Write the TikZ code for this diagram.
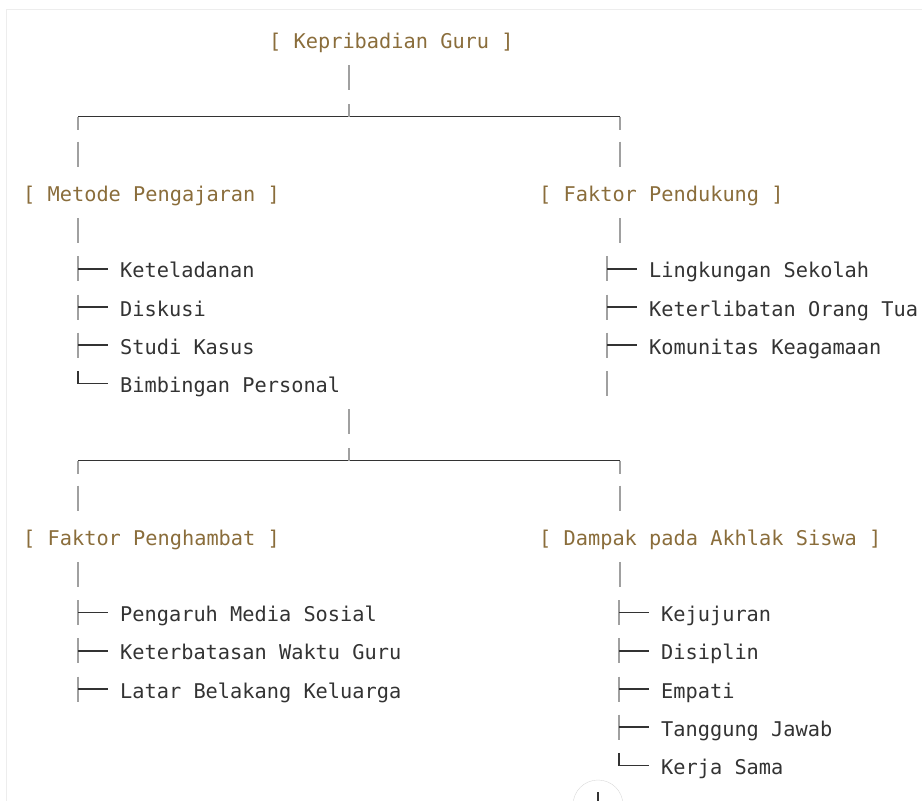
\documentclass[tikz,border=0pt]{standalone}
\usepackage{fontspec}
\newfontfamily\kodefont{DejaVu Sans Mono}
\usetikzlibrary{calc}
\definecolor{coklat}{HTML}{8A6D3B}
\definecolor{tinta}{HTML}{333333}
\definecolor{abu}{HTML}{A0A0A0}
\tikzset{judul/.style={anchor=base west, inner sep=0pt, text=coklat, font=\kodefont\fontsize{20.3}{24}\selectfont}}
\tikzset{isi/.style={judul, text=tinta}}
\tikzset{tegak/.style={line width=1.5pt, abu}}
\tikzset{datar/.style={line width=1.5pt, tinta}}

\begin{document}
\begin{tikzpicture}[x=1pt, y=-1pt]
  \useasboundingbox (0,0) rectangle (922,801);
  \draw[black!7] (6,801) -- (6,9) -- (922,9);

  % judul
  \node[judul] (guru) at (269,48.6) {[ Kepribadian Guru ]};
  \node[judul] (metode) at (23,201.4) {[ Metode Pengajaran ]};
  \node[judul] (dukung) at (539,201.4) {[ Faktor Pendukung ]};
  \node[judul] (hambat) at (23,545.2) {[ Faktor Penghambat ]};
  \node[judul] (dampak) at (539,545.2) {[ Dampak pada Akhlak Siswa ]};

  % isi
  \foreach \t [count=\n] in {Keteladanan, Diskusi, Studi Kasus, Bimbingan Personal}
    \node[isi] (m\n) at (120,{239.6+38.2*\n}) {\t};
  \foreach \t [count=\n] in {Lingkungan Sekolah, Keterlibatan Orang Tua, Komunitas Keagamaan}
    \node[isi] (p\n) at (649,{239.6+38.2*\n}) {\t};
  \foreach \t [count=\n] in {Pengaruh Media Sosial, Keterbatasan Waktu Guru, Latar Belakang Keluarga}
    \node[isi] (h\n) at (120,{583.4+38.2*\n}) {\t};
  \foreach \t [count=\n] in {Kejujuran, Disiplin, Empati, Tanggung Jawab, Kerja Sama}
    \node[isi] (d\n) at (661,{583.4+38.2*\n}) {\t};

  % cabang
  \foreach \c in {m1,m2,m3,p1,p2,p3,h1,h2,h3,d1,d2,d3,d4} {
    \draw[tegak] ($(\c.base west)+(-42,-21.5)$) -- ++(0,25);
    \draw[datar] ($(\c.base west)+(-42,-9)$) -- ++(30,0);
  }
  \foreach \c in {m4,d5}
    \draw[datar] ($(\c.base west)+(-42,-21.5)$) |- ++(30,12.5);

  % batang di bawah judul
  \draw[tegak] ($(guru.base west)+(80,16.7)$) -- ++(0,25);
  \foreach \j/\dx in {metode/55, dukung/81, hambat/55, dampak/81}
    \draw[tegak] ($(\j.base west)+(\dx,16.7)$) -- ++(0,25);
  \draw[tegak] ($(p3.base west)+(-42,16.7)$) -- ++(0,25);
  \draw[tegak] ($(m4.base west)+(229,16.7)$) -- ++(0,25);

  % palang
  \foreach \s/\y in {s1/116.5, s2/460.5} {
    \coordinate (\s) at (349,\y);
    \coordinate (\s ki) at (78,\y);
    \coordinate (\s ka) at (620,\y);
    \draw[datar] (\s ki) -- (\s ka);
    \draw[tegak] (\s) -- ++(0,-13);
    \draw[tegak] (\s ki) -- ++(0,13);
    \draw[tegak] (\s ka) -- ++(0,13);
    \draw[tegak] ($(\s ki)+(0,25.2)$) -- ++(0,25);
    \draw[tegak] ($(\s ka)+(0,25.2)$) -- ++(0,25);
  }

  % tombol gulir
  \draw[black!15] (598,805) circle (25);
  \draw[tinta, line width=1.2pt] (598,792) -- (598,801);
\end{tikzpicture}
\end{document}
